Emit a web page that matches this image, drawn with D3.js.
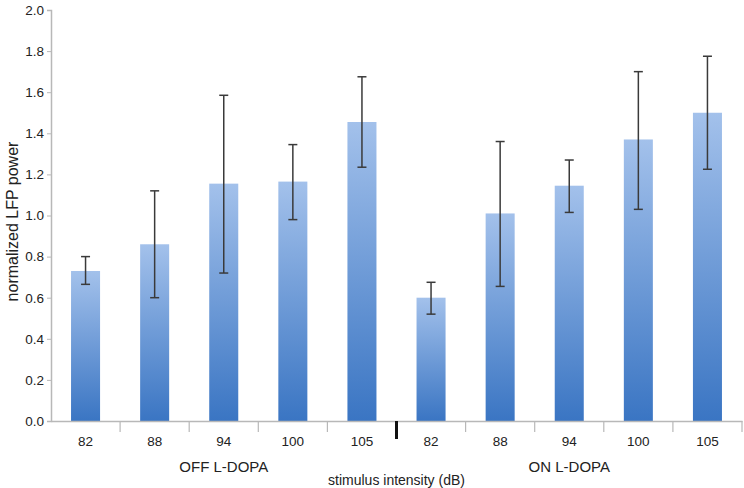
<!DOCTYPE html>
<html><head><meta charset="utf-8">
<script src="https://cdn.jsdelivr.net/npm/d3@7"></script>
<style>body{margin:0;background:#fff}svg{display:block}text{font-family:"Liberation Sans Narrow","Liberation Sans",Arial,sans-serif;fill:#222}</style>
</head><body><svg id="c" width="744" height="488"></svg>
<script>
const categories = ["82","88","94","100","105","82","88","94","100","105"];
const groups = ["OFF L-DOPA","ON L-DOPA"];
const values = [0.73,0.86,1.155,1.165,1.455,0.60,1.01,1.145,1.37,1.50];
const errLow = [0.665,0.60,0.72,0.98,1.235,0.52,0.655,1.015,1.03,1.225];
const errHigh = [0.80,1.12,1.585,1.345,1.675,0.675,1.36,1.27,1.70,1.775];
const yTicks = [0,0.2,0.4,0.6,0.8,1.0,1.2,1.4,1.6,1.8,2.0];

const svg = d3.select("#c");
const mLeft = 51, mRight = 742, mTop = 10, mBottom = 421;
const idx = d3.range(values.length);
const x = d3.scaleBand().domain(idx).range([mLeft, mRight]).paddingInner(0.58).paddingOuter(0.29);
const xb = d3.scaleBand().domain(idx).range([mLeft, mRight]);
const y = d3.scaleLinear().domain([0, 2]).range([mBottom, mTop]);

const defs = svg.append("defs");
const g = defs.append("linearGradient").attr("id","bg").attr("x1",0).attr("y1",0).attr("x2",0).attr("y2",1);
g.append("stop").attr("offset","0%").attr("stop-color","#a3c1eb");
g.append("stop").attr("offset","100%").attr("stop-color","#3a75c3");

// bars
svg.selectAll("rect.bar").data(idx).join("rect").attr("class","bar")
  .attr("x", i => x(i)).attr("width", x.bandwidth())
  .attr("y", i => y(values[i])).attr("height", i => mBottom - y(values[i]))
  .attr("fill","url(#bg)");

// error bars
const eb = svg.append("g").attr("stroke","#3a3a3a").attr("stroke-width",1.5);
idx.forEach(i => {
  const cx = x(i) + x.bandwidth()/2;
  eb.append("line").attr("x1",cx).attr("x2",cx).attr("y1",y(errLow[i])).attr("y2",y(errHigh[i]));
  eb.append("line").attr("x1",cx-4.5).attr("x2",cx+4.5).attr("y1",y(errLow[i])).attr("y2",y(errLow[i]));
  eb.append("line").attr("x1",cx-4.5).attr("x2",cx+4.5).attr("y1",y(errHigh[i])).attr("y2",y(errHigh[i]));
});

// y axis
const ya = svg.append("g").attr("transform",`translate(${mLeft},0)`)
  .call(d3.axisLeft(y).tickValues(yTicks).tickFormat(d3.format(".1f")).tickSize(4).tickPadding(3));
ya.select(".domain").attr("stroke","#b8b8b8").attr("stroke-width",1.5);
ya.selectAll(".tick line").attr("stroke","#b8b8b8");
ya.selectAll(".tick text").attr("font-size",13.5).attr("fill","#222")
  .attr("font-family",'"Liberation Sans Narrow","Liberation Sans",Arial,sans-serif');

// x axis
const xa = svg.append("g").attr("transform",`translate(0,${mBottom})`)
  .call(d3.axisBottom(xb).tickFormat(i => categories[i]).tickSize(0).tickPadding(15));
xa.select(".domain").attr("stroke","#b8b8b8").attr("stroke-width",1.5);
xa.selectAll(".tick text").attr("font-size",13.5).attr("fill","#222")
  .attr("font-family",'"Liberation Sans Narrow","Liberation Sans",Arial,sans-serif');
// separator ticks
const seps = d3.range(1, values.length+1);
svg.append("g").selectAll("line").data(seps).join("line")
  .attr("x1", k => k < values.length ? xb(k) : mRight).attr("x2", k => k < values.length ? xb(k) : mRight)
  .attr("y1", mBottom).attr("y2", k => k === 5 ? mBottom+18 : mBottom+11)
  .attr("stroke", k => k === 5 ? "#111" : "#b8b8b8")
  .attr("stroke-width", k => k === 5 ? 3 : 1.2);

// group labels
svg.append("text").attr("x", (xb(0)+xb(4)+xb.bandwidth())/2).attr("y", 472).attr("text-anchor","middle").attr("font-size",15).text(groups[0]);
svg.append("text").attr("x", (xb(5)+xb(9)+xb.bandwidth())/2).attr("y", 472).attr("text-anchor","middle").attr("font-size",15).text(groups[1]);
svg.append("text").attr("x", xb(5)).attr("y", 485).attr("text-anchor","middle").attr("font-size",14).text("stimulus intensity (dB)");

// y label
svg.append("text").attr("transform",`translate(18,${(mTop+mBottom)/2 + 6}) rotate(-90)`).attr("text-anchor","middle").attr("font-size",16).text("normalized  LFP power");
</script></body></html>
